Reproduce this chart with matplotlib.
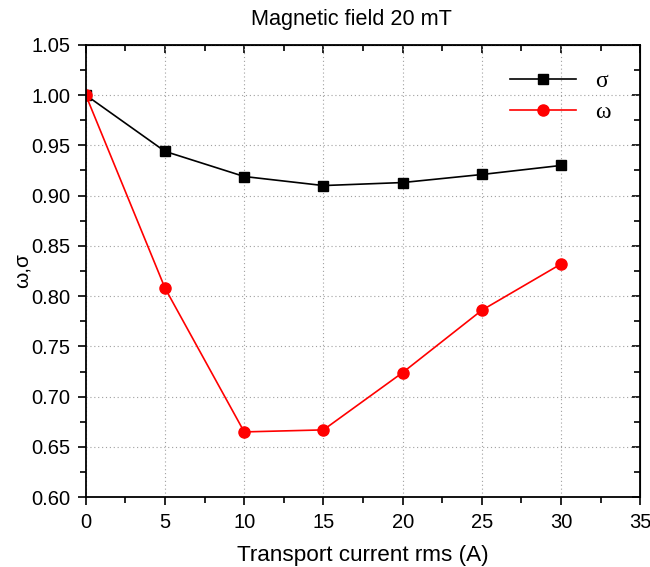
import matplotlib
matplotlib.use('Agg')
import matplotlib.pyplot as plt

plt.rcParams['font.family'] = ['Liberation Sans', 'DejaVu Sans']

current = [0, 5, 10, 15, 20, 25, 30]
sigma = [1.000, 0.944, 0.919, 0.910, 0.913, 0.921, 0.930]
omega = [1.000, 0.808, 0.665, 0.667, 0.724, 0.786, 0.832]

fig = plt.figure(figsize=(6.5, 5.67), dpi=100)
ax = fig.add_axes([0.132, 0.123, 0.853, 0.798])

ax.plot(current, sigma, color='black', marker='s', markersize=7, linewidth=1.2, label='σ')
ax.plot(current, omega, color='red', marker='o', markersize=8, linewidth=1.2, label='ω')

ax.set_xlim(0, 35)
ax.set_ylim(0.60, 1.05)
ax.set_xticks(range(0, 36, 5))
ax.set_xticks([x + 2.5 for x in range(0, 35, 5)], minor=True)
yt = [0.60 + 0.05 * i for i in range(10)]
ax.set_yticks(yt)
ax.set_yticklabels([f'{v:.2f}' for v in yt])
ax.set_yticks([0.625 + 0.05 * i for i in range(9)], minor=True)

ax.grid(True, which='major', linestyle=(0, (1, 2.5)), color='#a0a0a0', linewidth=0.8)
ax.tick_params(which='both', direction='out', labelsize=14.5, width=1.2)
ax.tick_params(which='major', length=6, pad=5)
ax.tick_params(which='minor', length=4)
for s in ax.spines.values():
    s.set_linewidth(1.3)

# inward ticks on top and right
axr = ax.secondary_yaxis('right')
axr.set_yticks(yt)
axr.set_yticks([0.625 + 0.05 * i for i in range(9)], minor=True)
axr.tick_params(which='both', direction='in', labelright=False, width=1.2)
axr.tick_params(which='major', length=6)
axr.tick_params(which='minor', length=4)
axt = ax.secondary_xaxis('top')
axt.set_xticks(range(0, 36, 5))
axt.set_xticks([x + 2.5 for x in range(0, 35, 5)], minor=True)
axt.tick_params(which='both', direction='in', labeltop=False, width=1.2)
axt.tick_params(which='major', length=6)
axt.tick_params(which='minor', length=4)

ax.set_xlabel('Transport current rms (A)', fontsize=16.2, labelpad=10)
ax.set_ylabel('ω,σ', fontsize=15)
ax.yaxis.set_label_coords(-0.098, 0.5)
fig.text(351 / 650, 1 - 19 / 567, 'Magnetic field 20 mT', fontsize=15.6,
         ha='center', va='center')

leg = ax.legend(loc='upper right', bbox_to_anchor=(0.985, 0.99), frameon=False,
                prop={'family': 'Liberation Serif', 'size': 17}, handlelength=2.8,
                labelspacing=0.4)

fig.savefig('out.png', dpi=100)
